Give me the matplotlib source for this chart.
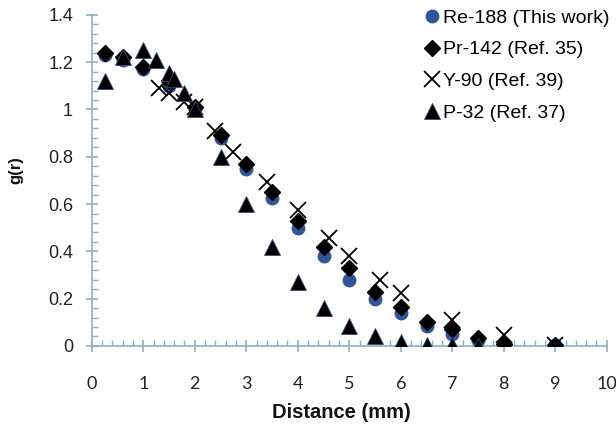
import matplotlib
matplotlib.use("Agg")
import matplotlib.pyplot as plt
from matplotlib.ticker import MultipleLocator, FuncFormatter

re_x = [0.25, 0.6, 1.0, 1.5, 2.0, 2.5, 3.0, 3.5, 4.0, 4.5, 5.0, 5.5, 6.0, 6.5, 7.0, 7.5, 8.0, 9.0]
re_y = [1.23, 1.21, 1.17, 1.10, 1.00, 0.88, 0.75, 0.625, 0.50, 0.38, 0.28, 0.20, 0.14, 0.085, 0.05, 0.025, 0.01, 0.005]
pr_x = [0.25, 0.6, 1.0, 1.5, 2.0, 2.5, 3.0, 3.5, 4.0, 4.5, 5.0, 5.5, 6.0, 6.5, 7.0, 7.5, 8.0, 9.0]
pr_y = [1.24, 1.22, 1.18, 1.12, 1.01, 0.89, 0.77, 0.65, 0.53, 0.42, 0.33, 0.23, 0.165, 0.10, 0.07, 0.035, 0.01, 0.005]
y90_x = [1.3, 1.5, 1.8, 2.0, 2.4, 2.75, 3.4, 4.0, 4.6, 5.0, 5.6, 6.0, 7.0, 8.0, 9.0]
y90_y = [1.09, 1.07, 1.03, 1.01, 0.91, 0.82, 0.695, 0.575, 0.455, 0.38, 0.28, 0.225, 0.11, 0.045, 0.005]
p_x = [0.25, 0.6, 1.0, 1.25, 1.5, 1.6, 1.8, 2.0, 2.5, 3.0, 3.5, 4.0, 4.5, 5.0, 5.5, 6.0, 6.5, 7.0, 7.5]
p_y = [1.12, 1.22, 1.25, 1.21, 1.155, 1.13, 1.07, 1.0, 0.80, 0.60, 0.42, 0.27, 0.16, 0.085, 0.04, 0.018, 0.005, 0.005, 0.0]

labels = ["Re-188 (This work)", "Pr-142 (Ref. 35)", "Y-90 (Ref. 39)", "P-32 (Ref. 37)"]
x_ticks = list(range(0, 11))
y_ticks = [0, 0.2, 0.4, 0.6, 0.8, 1.0, 1.2, 1.4]

axis_col = "#8db0c2"
fig = plt.figure(figsize=(6.16, 4.26), dpi=100)
ax = fig.add_axes([0.149, 0.188, 0.836, 0.777])

ax.plot(re_x, re_y, "o", color="#2f5597", markersize=9, linestyle="none", label=labels[0], zorder=3)
ax.plot(pr_x, pr_y, "D", color="black", markersize=8, linestyle="none", label=labels[1], zorder=4)
ax.plot(y90_x, y90_y, "x", color="black", markersize=11, markeredgewidth=1.3, linestyle="none", label=labels[2], zorder=5)
ax.plot(p_x, p_y, "^", color="black", markersize=11, markeredgecolor="#3a4a7a", markeredgewidth=0.6, linestyle="none", label=labels[3], zorder=6)

ax.set_xlim(0, 10)
ax.set_ylim(0, 1.4)
ax.set_xticks(x_ticks)
ax.set_yticks(y_ticks)
ax.xaxis.set_minor_locator(MultipleLocator(0.2))
ax.yaxis.set_minor_locator(MultipleLocator(0.04))
ax.yaxis.set_major_formatter(FuncFormatter(lambda v, p: ("%g" % round(v, 2))))

for s in ["top", "right"]:
    ax.spines[s].set_visible(False)
for s in ["left", "bottom"]:
    ax.spines[s].set_color(axis_col)
    ax.spines[s].set_linewidth(1.2)

ax.tick_params(which="major", direction="inout", length=9, width=1.2, color=axis_col)
ax.tick_params(which="minor", direction="in", length=4, width=1.0, color=axis_col)
ax.tick_params(axis="y", labelsize=13, labelcolor="#222222", pad=9)
ax.tick_params(axis="x", labelsize=13, labelcolor="#222222", pad=17)
for t in ax.get_yticklabels():
    t.set_fontfamily("Liberation Sans")
for t in ax.get_xticklabels():
    t.set_fontfamily("Lato")

ax.set_xlabel("Distance (mm)", fontsize=14.5, fontweight="bold", family="Liberation Sans", color="#111111")
ax.xaxis.set_label_coords(0.484, -0.2)
ax.xaxis.label.set_va("center")
ax.set_ylabel("g(r)", fontsize=12, fontweight="bold", family="Liberation Sans", color="#111111")
ax.yaxis.set_label_coords(-0.147, 0.532)
ax.yaxis.label.set_va("center")

leg = ax.legend(loc="upper left", bbox_to_anchor=(0.645, 1.018), frameon=False,
                prop={"family": "Liberation Sans", "size": 14}, handletextpad=0.2,
                handlelength=0.8, labelspacing=0.73, borderaxespad=0, borderpad=0)

fig.savefig("out.png", dpi=100, facecolor="white")
